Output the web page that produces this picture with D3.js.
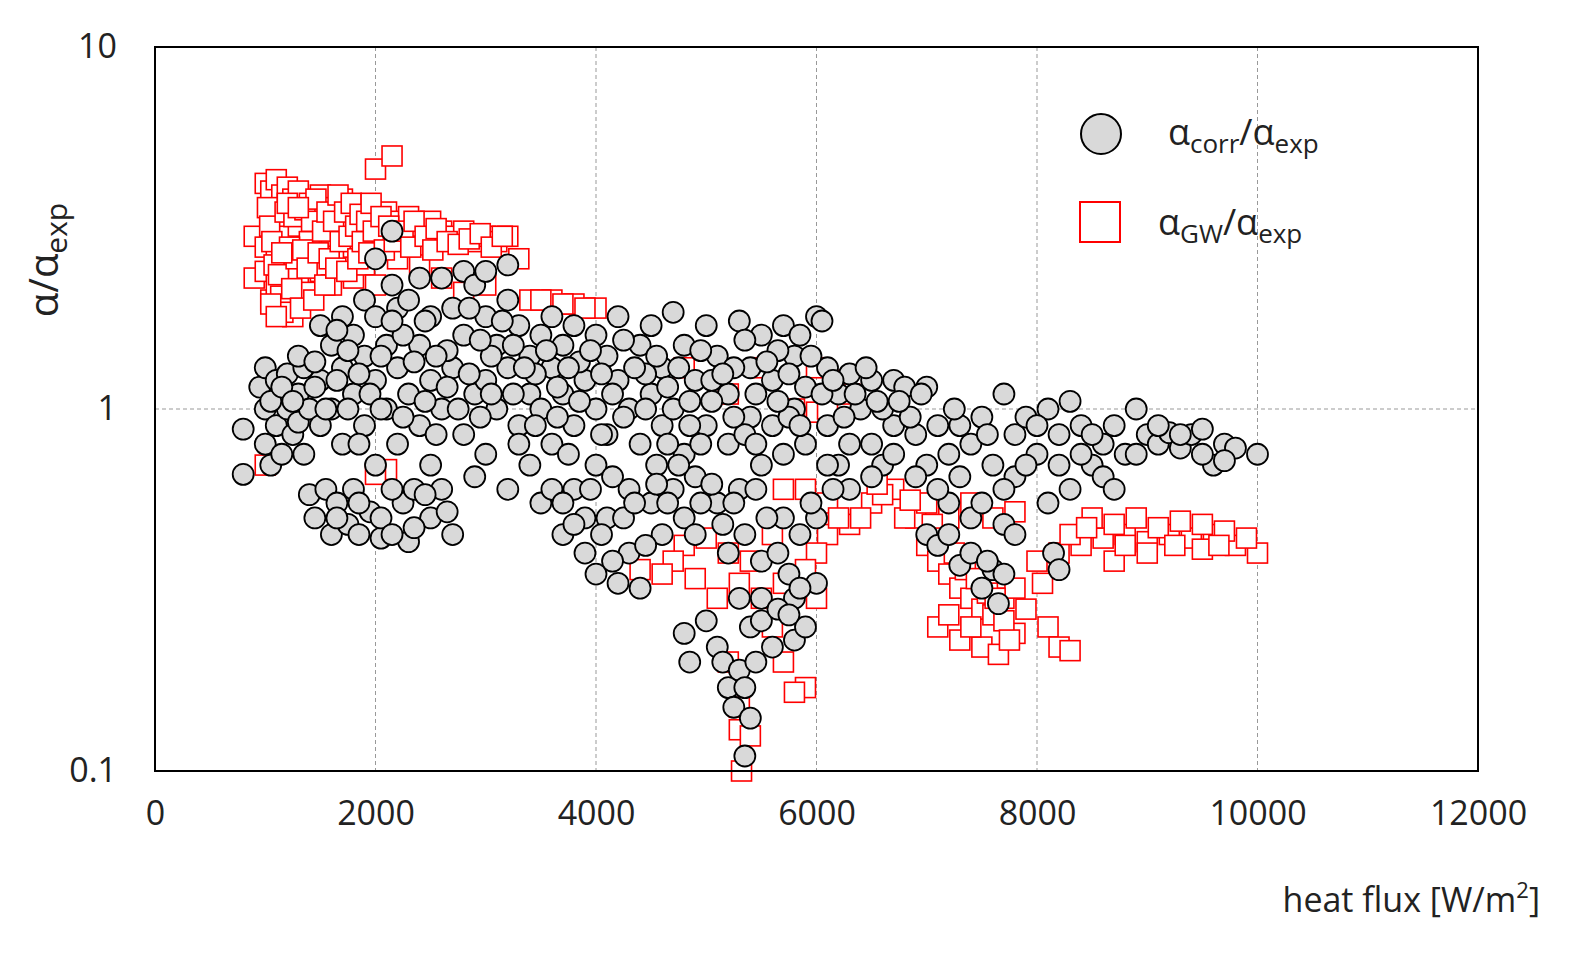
<!DOCTYPE html>
<html><head><meta charset="utf-8">
<script src="https://cdn.jsdelivr.net/npm/d3@7"></script>
<style>body{margin:0;background:#fff}text{font-family:"Open Sans",sans-serif}</style>
</head><body><svg id="c" width="1593" height="965"></svg>
<script>
const xTicks=[0,2000,4000,6000,8000,10000,12000];
const yTicks=[0.1,1,10];
const gwPoints=[[1000,4.2],[1050,4.0],[1100,4.3],[1150,3.9],[1200,4.1],[1250,3.8],[1300,4.0],[1400,3.7],[1500,3.9],[1600,3.6],[1700,3.8],[1800,3.5],[1900,3.6],[2000,4.6],[2150,5.0],[2100,3.5],[2200,3.3],[2300,3.4],[2400,3.2],[2500,3.3],[2600,3.1],[2700,3.0],[2800,3.1],[2900,2.9],[3000,3.0],[3100,2.9],[3200,3.0],[3300,2.6],
[900,3.0],[900,2.3],[1000,2.8],[1000,2.4],[1050,2.0],[1100,2.6],[1100,2.2],[1150,1.9],[1200,2.5],[1200,2.0],[1250,1.8],[1300,2.3],[1400,2.1],[1500,2.4],[1600,2.2],[1700,2.6],[1800,2.3],[1900,2.5],[2000,2.2],[2200,2.6],[2400,2.5],[2600,2.3],[2800,2.1],[3000,2.2],[3400,2.0],[3600,2.0],[3800,1.95],[4000,1.9],[1100,3.3],[1200,3.0],[1300,3.2],[1400,2.9],[1600,3.0],[1800,2.8],[2000,2.9],[1700,3.2],
[1020,3.6],[1040,3.2],[1060,2.9],[1080,2.5],[1120,2.35],[1140,2.05],[1160,1.85],[1180,3.5],[1220,2.8],[1240,2.15],[1260,3.4],[1280,2.6],[1320,1.9],[1340,2.75],[1360,3.55],[1380,2.45],[1420,3.3],[1440,2.0],[1460,3.8],[1480,2.7],[1520,3.1],[1540,2.2],[1560,3.5],[1580,2.6],[1620,3.3],[1640,2.45],[1660,3.9],[1680,2.9],[1720,3.5],[1740,2.4],[1760,3.0],[1780,3.7],[1820,3.2],[1840,2.6],[1860,3.45],[1880,2.9],[1920,3.3],[1940,2.7],[1960,3.7],[1980,3.1],[2050,3.4],[2080,2.75],[2120,3.2],[2170,2.9],[2250,3.1],[2320,2.8],[2350,3.3],[2450,3.0],[2520,2.75],[2550,3.15],[2650,2.9],[2750,2.85],[2850,2.95],[2950,3.05],[3050,2.8],[3150,3.0],[1050,1.95],[1150,2.7],[1200,3.7],[1300,3.6],[1100,1.8],[3500,2.0],[3700,1.95],[3900,1.9],
[5500,1.3],[6000,1.3],[6200,1.2],[5800,1.0],[6000,0.98],[1000,0.7],[2100,0.68],[2000,0.66],[6100,1.0],[6300,1.1],[5200,1.1],[4800,1.3],
[4800,0.42],[5000,0.44],[4700,0.38],[5200,0.4],[5400,0.38],[5600,0.45],[5700,0.6],[5900,0.6],[6100,0.45],[6300,0.48],[6500,0.55],[6700,0.6],[6900,0.5],[7000,0.42],[7100,0.38],[7200,0.35],[7300,0.32],[7400,0.3],[7500,0.28],[7600,0.27],[7700,0.3],[7800,0.32],[7100,0.25],[7300,0.23],[7500,0.22],[7650,0.21],[7800,0.24],[7900,0.28],[8100,0.25],[8200,0.22],[8300,0.215],[8000,0.38],[8200,0.4],[8400,0.42],[8600,0.44],[8800,0.45],[9000,0.43],[9200,0.45],[9400,0.44],[9600,0.45],[9800,0.42],[10000,0.4],[8500,0.5],[8700,0.48],[8900,0.5],[9100,0.47],[9300,0.49],[9500,0.48],[9700,0.46],[8700,0.38],[9000,0.4],[9500,0.41],[7200,0.5],[7400,0.55],[7600,0.5],[7800,0.52],[5100,0.3],[5200,0.2],[5300,0.15],[5300,0.13],[5400,0.125],[5320,0.1],[5600,0.25],[5700,0.2],[5900,0.17],[5800,0.165],[6000,0.3],[6000,0.4],[6100,0.55],[6400,0.5],[6600,0.58],[6800,0.5],[7000,0.55],[4400,0.36],[4600,0.35],[4900,0.34],[5300,0.33],[5500,0.3],[5700,0.33],[5900,0.36],
[7050,0.48],[7150,0.44],[7250,0.4],[7350,0.36],[7450,0.34],[7550,0.31],[7620,0.3],[7700,0.26],[7750,0.23],[7400,0.25],[7200,0.27],[8050,0.33],[8300,0.45],[8450,0.47],[8800,0.42],[9250,0.42],[9650,0.42],[9900,0.44],[6200,0.5],[6550,0.62],[6850,0.56]];
const corrPoints=[[800,0.88],[800,0.66],[950,1.15],[1000,1.3],[1000,1.0],[1000,0.8],[1050,0.7],[1100,1.2],[1100,0.9],[1150,0.75],[1200,1.25],[1200,1.0],[1250,0.85],[1300,1.1],[1300,0.92],[1350,1.3],[1400,1.0],[1400,0.58],[1450,0.5],[1500,1.7],[1500,1.2],[1500,0.9],[1550,0.6],[1600,0.45],[1600,1.5],[1600,1.0],[1650,0.55],[1700,1.8],[1700,1.3],[1700,0.8],[1750,0.48],[1800,1.6],[1800,1.1],[1800,0.6],[1850,0.45],[1900,2.0],[1900,1.4],[1900,0.9],[1950,0.52],[2000,2.6],[2000,1.8],[2000,1.2],[2000,0.7],[2050,0.44],[2100,1.5],[2100,1.0],[2150,3.1],[2150,2.2],[2200,1.9],[2200,1.3],[2200,0.8],[2250,0.55],[2300,0.43],[2300,2.0],[2300,1.1],[2350,0.6],[2400,2.3],[2400,1.5],[2400,0.9],[2500,1.8],[2500,1.2],[2500,0.7],[2500,0.5],[2600,2.3],[2600,1.0],[2600,0.6],[2700,1.9],[2700,1.3],[2700,0.45],[2800,2.4],[2800,1.6],[2800,0.85],[2900,2.2],[2900,1.1],[2900,0.65],[3000,2.4],[3000,1.8],[3000,1.2],[3000,0.75],[3100,1.5],[3100,1.0],[3200,2.5],[3200,2.0],[3200,1.3],[3200,0.6],[3300,1.7],[3300,0.9],[3400,1.4],[3400,1.1],[3400,0.7],[3500,1.6],[3500,1.0],[3500,0.55],[3600,1.8],[3600,1.3],[3600,0.8],[3700,1.5],[3700,0.45],[3700,1.1],[3800,1.7],[3800,0.9],[3800,0.6],[3900,1.2],[3900,0.5],[3900,0.4],[4000,1.6],[4000,1.0],[4000,0.7],[4000,0.35],[4100,1.4],[4100,0.85],[4100,0.5],[4200,1.8],[4200,1.2],[4200,0.33],[4300,1.0],[4300,0.6],[4300,0.4],[4400,1.5],[4400,0.8],[4400,0.32],[4500,1.7],[4500,1.1],[4500,0.55],[4600,1.3],[4600,0.9],[4600,0.45],[4700,1.85],[4700,1.0],[4700,0.6],[4800,1.5],[4800,0.75],[4800,0.24],[4800,0.5],[4850,0.2],[4900,1.2],[4900,0.65],[4900,0.45],[5000,1.7],[5000,0.9],[5000,0.26],[5100,1.4],[5100,0.55],[5100,0.22],[5150,0.2],[5200,1.1],[5200,0.8],[5200,0.4],[5200,0.17],[5250,0.15],[5300,1.75],[5300,0.6],[5300,0.3],[5350,0.11],[5400,1.3],[5400,0.95],[5400,0.25],[5400,0.14],[5500,1.6],[5500,0.7],[5500,0.38],[5500,0.3],[5600,1.2],[5600,0.9],[5600,0.22],[5700,1.7],[5700,0.75],[5700,0.5],[5800,1.4],[5800,1.0],[5800,0.3],[5800,0.23],[5900,1.15],[5900,0.8],[5900,0.25],[6000,1.8],[6000,0.5],[6000,0.33],[6050,1.75],[6100,1.3],[6100,0.9],[6200,1.1],[6200,0.7],[6300,1.25],[6300,0.6],[6400,1.0],[6500,1.2],[6500,0.8],[6600,0.7],[6700,1.2],[6700,0.9],[6800,1.15],[6900,0.85],[7000,1.15],[7000,0.7],[7000,0.45],[7100,0.9],[7100,0.42],[7200,0.75],[7200,0.55],[7300,0.9],[7300,0.37],[7400,0.8],[7400,0.5],[7500,0.95],[7500,0.32],[7600,0.7],[7600,0.36],[7650,0.29],[7700,1.1],[7700,0.48],[7800,0.85],[7800,0.65],[7900,0.95],[8000,0.75],[8100,1.0],[8100,0.55],[8150,0.4],[8200,0.36],[8200,0.85],[8300,1.05],[8300,0.6],[8400,0.9],[8500,0.7],[8600,0.8],[8600,0.65],[8700,0.9],[8800,0.75],[8900,1.0],[9000,0.85],[9100,0.8],[9200,0.86],[9300,0.78],[9400,0.85],[9500,0.88],[9600,0.7],[9700,0.8],[9800,0.78],[10000,0.75],
[1300,1.4],[1450,1.15],[1650,1.2],[1850,1.25],[2050,1.4],[2250,1.6],[2450,1.05],[2650,1.45],[2850,1.25],[3050,1.4],[3250,1.1],[3450,1.25],[3650,0.95],[3850,1.35],[4050,1.25],[4250,0.95],[4450,1.25],[4650,1.15],[4850,1.05],[5050,1.2],[5250,1.3],[5450,1.1],[5650,1.45],[5850,1.6],[6250,0.95],[6450,1.3],[6600,1.0],[3750,0.75],[4150,0.65],[4550,0.7],[4950,0.8],[5350,0.85],[5750,0.95],[6150,0.6],[6850,0.95],[7250,1.0],[7550,0.85],[3300,0.8],[2950,0.95],[2550,0.85],[2150,0.6],[1750,1.0],[1350,0.75],
[1050,1.05],[1150,1.15],[1250,1.05],[1450,1.35],[1550,1.0],[1650,1.65],[1750,1.45],[1850,0.8],[1950,1.1],[2050,1.0],[2150,1.75],[2250,0.95],[2350,1.35],[2450,1.75],[2550,1.4],[2650,1.15],[2750,1.0],[2850,1.9],[2950,1.55],[3050,1.1],[3150,1.75],[3250,1.5],[3350,1.3],[3450,0.9],[3550,1.45],[3650,1.15],[3750,1.3],[3850,1.05],[3950,1.45],[4050,0.85],[4150,1.1],[4250,1.55],[4350,1.3],[4450,1.0],[4550,1.4],[4650,0.8],[4750,1.3],[4850,0.9],[4950,1.45],[5050,1.05],[5150,1.25],[5250,0.95],[5350,1.55],[5450,0.8],[5550,1.35],[5650,1.05],[5750,1.25],[5850,0.9],[5950,1.4],[6050,1.1],[6150,1.2],[6350,1.1],[6550,1.05],[6750,1.05],[6950,1.1],[1650,0.5],[1850,0.55],[2050,0.5],[2150,0.45],[2350,0.47],[2450,0.58],[2650,0.52],[3600,0.6],[3700,0.55],[3800,0.48],[3950,0.6],[4050,0.45],[4150,0.38],[4250,0.5],[4350,0.55],[4450,0.42],[4550,0.62],[4650,0.55],[4750,0.7],[4950,0.55],[5050,0.62],[5150,0.48],[5250,0.55],[5350,0.45],[5450,0.6],[5550,0.5],[5650,0.4],[5750,0.35],[5850,0.45],[5950,0.55],[5300,0.19],[5350,0.17],[5450,0.2],[5500,0.26],[5650,0.28],[5750,0.27],[5850,0.32],[6100,0.7],[6300,0.8],[6500,0.65],[6700,0.75],[6900,0.65],[7100,0.6],[7300,0.65],[7500,0.55],[7700,0.6],[7800,0.45],[7900,0.7],[8000,0.9],[8200,0.7],[8400,0.75],[8500,0.85],[8700,0.6],[8900,0.75],[9100,0.9],[9300,0.85],[9500,0.75],[9700,0.72],[7400,0.4],[7550,0.38],[7700,0.35],[7200,0.45]];

const svg=d3.select("#c");
const x=d3.scaleLinear().domain([0,12000]).range([155,1478]);
const y=d3.scaleLog().domain([0.1,10]).range([771,47]);
const g=svg.append("g");
xTicks.filter(t=>t>0&&t<12000).forEach(t=>g.append("line").attr("x1",x(t)).attr("x2",x(t)).attr("y1",47).attr("y2",771).attr("stroke","#999").attr("stroke-dasharray","4,3"));
g.append("line").attr("x1",155).attr("x2",1478).attr("y1",y(1)).attr("y2",y(1)).attr("stroke","#999").attr("stroke-dasharray","4,3");
svg.append("g").attr("transform","translate(0,771)").call(d3.axisBottom(x).tickValues(xTicks).tickSize(0).tickPadding(30).tickFormat(d3.format("d")))
 .call(a=>{a.select(".domain").remove();a.selectAll("text").attr("font-size",34).attr("fill","#222").attr("font-family","Open Sans");});
svg.append("g").attr("transform","translate(155,0)").call(d3.axisLeft(y).tickValues(yTicks).tickSize(0).tickPadding(38).tickFormat(d=>String(d)))
 .call(a=>{a.select(".domain").remove();a.selectAll("text").attr("font-size",34).attr("fill","#222").attr("font-family","Open Sans");});
const s=20;
svg.append("g").selectAll("rect").data(gwPoints).join("rect").attr("x",d=>x(d[0])-s/2).attr("y",d=>y(d[1])-s/2).attr("width",s).attr("height",s).attr("fill","#fff").attr("stroke","#ff0000").attr("stroke-width",1.6);
svg.append("g").selectAll("circle").data(corrPoints).join("circle").attr("cx",d=>x(d[0])).attr("cy",d=>y(d[1])).attr("r",10.5).attr("fill","#d9d9d9").attr("stroke","#000").attr("stroke-width",1.8);
svg.append("rect").attr("x",155).attr("y",47).attr("width",1323).attr("height",724).attr("fill","none").attr("stroke","#000").attr("stroke-width",2);
svg.append("circle").attr("cx",1101).attr("cy",134).attr("r",20).attr("fill","#d9d9d9").attr("stroke","#000").attr("stroke-width",2);
svg.append("rect").attr("x",1080).attr("y",202).attr("width",40).attr("height",40).attr("fill","#fff").attr("stroke","#ff0000").attr("stroke-width",2);
function lab(t,xx,yy,sub1){t.attr("x",xx).attr("y",yy).attr("font-size",36).attr("fill","#222");
 t.append("tspan").text("α");t.append("tspan").text(sub1).attr("font-size",26).attr("dy",8);
 t.append("tspan").text("/α").attr("dy",-8);t.append("tspan").text("exp").attr("font-size",26).attr("dy",8);}
lab(svg.append("text"),1168,145,"corr");
lab(svg.append("text"),1158,235,"GW");
const yl=svg.append("text").attr("transform","translate(58,260) rotate(-90)").attr("text-anchor","middle").attr("font-size",40).attr("fill","#222");
yl.append("tspan").text("α/α");yl.append("tspan").text("exp").attr("font-size",30).attr("dy",9);
const xl=svg.append("text").attr("x",1540).attr("y",912).attr("text-anchor","end").attr("font-size",34).attr("fill","#222");
xl.append("tspan").text("heat flux [W/m");xl.append("tspan").text("2").attr("font-size",22).attr("dy",-14);xl.append("tspan").text("]").attr("dy",14);
</script></body></html>
